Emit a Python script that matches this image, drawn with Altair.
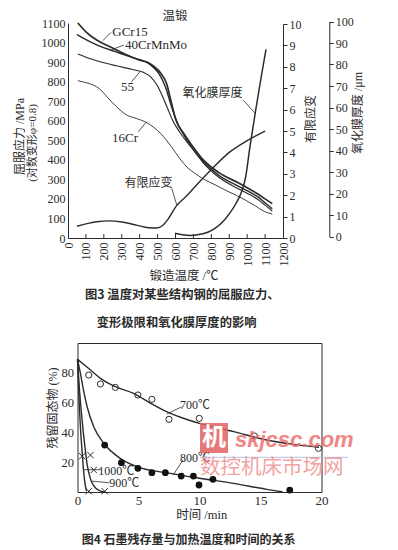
import altair as alt
import pandas as pd

# ---------------- Fig.3 data (temperature vs. yield stress / strain / oxide) ----------------
steel_names = ["GCr15", "40CrMnMo", "55", "16Cr"]
gcr15_temp = [55, 100, 160, 220, 280, 340, 400, 440, 480, 520, 550, 575, 600, 650, 695, 755, 845, 955, 1010, 1060, 1100, 1140]
gcr15_stress = [1100, 1055, 1013, 985, 958, 932, 910, 900, 878, 840, 790, 700, 610, 530, 470, 400, 333, 280, 252, 225, 200, 176]
crmnmo_temp = [50, 100, 180, 260, 340, 400, 440, 480, 515, 545, 575, 605, 645, 690, 750, 840, 950, 1010, 1060, 1100, 1140]
crmnmo_stress = [1040, 1015, 980, 955, 930, 912, 898, 870, 830, 770, 680, 600, 530, 465, 395, 322, 265, 237, 210, 180, 150]
s55_temp = [55, 100, 180, 270, 360, 420, 460, 495, 525, 555, 585, 625, 665, 705, 750, 840, 950, 1010, 1060, 1100, 1140]
s55_stress = [941, 925, 902, 881, 862, 848, 826, 785, 730, 665, 600, 540, 490, 445, 390, 312, 252, 224, 197, 168, 138]
cr16_temp = [55, 100, 140, 180, 220, 270, 330, 380, 440, 480, 520, 575, 625, 665, 710, 765, 815, 880, 940, 990, 1045, 1095, 1140]
cr16_stress = [805, 795, 783, 760, 720, 672, 628, 612, 590, 565, 532, 470, 405, 362, 330, 297, 275, 244, 218, 194, 165, 136, 122]
strain_temp = [50, 100, 160, 234, 300, 383, 450, 495, 530, 560, 605, 660, 720, 800, 900, 1000, 1100]
strain_value = [0.55, 0.66, 0.76, 0.80, 0.75, 0.60, 0.48, 0.47, 0.60, 0.90, 1.50, 1.95, 2.5, 3.2, 4.0, 4.55, 5.0]
oxide_temp = [597, 640, 681, 730, 780, 820, 860, 900, 935, 965, 990, 1016, 1050, 1080, 1105]
oxide_um = [1.5, 0.8, 0.5, 0.9, 2.0, 3.8, 6.5, 10.5, 15, 20, 27, 42, 60, 75, 87]

temp_ticks = list(range(0, 1201, 100))
stress_ticks = list(range(0, 1101, 100))
strain_ticks = list(range(0, 11))
oxide_ticks = list(range(0, 101, 10))

# labels (text, temp, stress) and leader lines (t1, s1, t2, s2)
fig3_labels = ["GCr15", "40CrMnMo", "55", "16Cr", "有限应变", "氧化膜厚度"]
fig3_label_temp = [346, 491, 332, 318, 449, 806]
fig3_label_stress = [1055, 987, 774, 512, 281, 742]
fig3_lead_t1 = [240, 312, 355, 439, 579, 978]
fig3_lead_s1 = [1052, 987, 800, 595, 254, 706]
fig3_lead_t2 = [195, 244, 402, 392, 607, 1044]
fig3_lead_s2 = [1010, 964, 851, 544, 169, 638]

# ---------------- Fig.4 data (residual graphite vs time) ----------------
c700_t = [0.92, 1.88, 3.1, 4.95, 6.1, 7.5, 9.98, 14.5, 19.75]
c700_p = [78.5, 72.5, 70.2, 65.1, 62.2, 48.8, 49.4, 37.6, 29.3]
c800_t = [2.23, 3.6, 4.95, 6.1, 7.2, 8.5, 9.5, 9.96, 11.1, 17.4]
c800_p = [31.5, 19.7, 15.9, 13.0, 13.0, 10.7, 10.7, 4.7, 8.5, 1.3]
cross_t = [0.38, 1.06, 1.33, 0.92, 2.23]
cross_p = [24, 24.8, 14.8, 0.5, 0.5]
fit700_t = [0, 0.9, 1.88, 3.0, 4.6, 6.0, 7.3, 8.5, 10, 12.8, 15.5, 17.7, 19.8]
fit700_p = [89, 83, 76.3, 71, 66.2, 59.5, 53.9, 50, 46.1, 40.5, 34.9, 32, 30]
fit800_t = [0, 0.24, 0.5, 0.79, 1.33, 2.15, 3.5, 4.87, 7.6, 10, 12.8, 15.5, 16.8]
fit800_p = [89, 79.6, 68, 57.2, 43.8, 32.7, 22.6, 17, 12.5, 9.2, 5.8, 1.8, 0.2]
fit900_t = [0, 0.15, 0.3, 0.45, 0.6, 0.8, 1.0, 1.2, 1.5, 1.9, 2.2]
fit900_p = [89, 70, 55, 42, 31, 18, 10.5, 6, 2.5, 0.6, 0]
fit1000_t = [0, 0.08, 0.16, 0.25, 0.35, 0.45, 0.55, 0.65, 0.75]
fit1000_p = [89, 72, 56, 42, 30, 19, 10, 4, 0.5]
time_ticks = [0, 5, 10, 15, 20]
pct_ticks = [20, 40, 60, 80]

fig4_labels = ["700℃", "800℃", "1000℃", "900℃"]
fig4_label_t = [9.63, 9.63, 3.18, 3.84]
fig4_label_p = [58.4, 22.8, 14.3, 6.2]
fig4_lead_t1 = [8.55, 8.65, 1.9, 2.6]
fig4_lead_p1 = [57.2, 21.5, 15.0, 6.2]
fig4_lead_t2 = [7.32, 7.84, 0.5, 1.2]
fig4_lead_p2 = [52.3, 11.4, 15.0, 7.3]

# ---------------- styling ----------------
SERIF = "Liberation Serif, Noto Sans CJK SC"
CJK = "Noto Sans CJK SC"
INK = "#2b2b2b"
W, H = 382, 538

xs_top = alt.Scale(domain=[0, 1200], range=[60, 275], nice=False, zero=False)
ys_mpa = alt.Scale(domain=[0, 1100], range=[230, 15], nice=False)
ys_strain = alt.Scale(domain=[0, 10], range=[230, 16], nice=False)
ys_ox = alt.Scale(domain=[0, 100], range=[228.5, 13.5], nice=False)
xs_bot = alt.Scale(domain=[0, 20], range=[69.5, 313.5], nice=False)
ys_bot = alt.Scale(domain=[0, 100], range=[484, 335], nice=False)

AX = dict(grid=False, title=None, labelFont=SERIF, labelColor=INK, domainColor=INK,
          tickColor=INK, labelOverlap=False, labelFlush=False, format="d")

layers = []

# stress curves
stress_rows = []
for name, T, S in zip(steel_names, [gcr15_temp, crmnmo_temp, s55_temp, cr16_temp],
                      [gcr15_stress, crmnmo_stress, s55_stress, cr16_stress]):
    for t, s in zip(T, S):
        stress_rows.append({"steel": name, "T": t, "S": s})
stress_df = pd.DataFrame(stress_rows)
layers.append(
    alt.Chart(stress_df).mark_line(interpolate="monotone", color=INK).encode(
        x=alt.X("T:Q", scale=xs_top, axis=alt.Axis(orient="bottom", offset=230 - H, values=temp_ticks,
                                                     labelAngle=270, labelFontSize=12, ticks=False,
                                                     labelPadding=4, **AX)),
        y=alt.Y("S:Q", scale=ys_mpa, axis=alt.Axis(orient="left", offset=-60, values=stress_ticks,
                                                     labelFontSize=12, ticks=False, labelPadding=3, **AX)),
        detail="steel:N",
        strokeWidth=alt.StrokeWidth("steel:N", scale=alt.Scale(domain=steel_names, range=[1.7, 0.9, 1.6, 1.6]),
                                    legend=None),
    )
)

# inward x ticks of fig 3
tick_df = pd.DataFrame({"T": temp_ticks[1:-1], "y0": [0] * 11, "y1": [20] * 11})
layers.append(
    alt.Chart(tick_df).mark_rule(color=INK, strokeWidth=1).encode(
        x=alt.X("T:Q", scale=xs_top, axis=None),
        y=alt.Y("y0:Q", scale=ys_mpa, axis=None), y2="y1:Q")
)

# strain curve + right axis
strain_df = pd.DataFrame({"T": strain_temp, "V": strain_value})
layers.append(
    alt.Chart(strain_df).mark_line(interpolate="monotone", color=INK, strokeWidth=1.4).encode(
        x=alt.X("T:Q", scale=xs_top, axis=None),
        y=alt.Y("V:Q", scale=ys_strain, axis=alt.Axis(orient="right", offset=275 - W, values=strain_ticks,
                                                        labelFontSize=12, tickSize=4, labelPadding=2, **AX)))
)

# oxide curve + far right axis
oxide_df = pd.DataFrame({"T": oxide_temp, "V": oxide_um})
layers.append(
    alt.Chart(oxide_df).mark_line(interpolate="monotone", color=INK, strokeWidth=1.5).encode(
        x=alt.X("T:Q", scale=xs_top, axis=None),
        y=alt.Y("V:Q", scale=ys_ox, axis=alt.Axis(orient="right", offset=321.3 - W, values=oxide_ticks,
                                                    labelFontSize=12, tickSize=4, labelPadding=2, **AX)))
)

# fig3 leaders and labels
lead3 = pd.DataFrame({"t1": fig3_lead_t1, "s1": fig3_lead_s1, "t2": fig3_lead_t2, "s2": fig3_lead_s2})
layers.append(
    alt.Chart(lead3).mark_rule(color=INK, strokeWidth=0.8).encode(
        x=alt.X("t1:Q", scale=xs_top, axis=None), x2="t2:Q",
        y=alt.Y("s1:Q", scale=ys_mpa, axis=None), y2="s2:Q")
)
lab3 = pd.DataFrame({"txt": fig3_labels, "T": fig3_label_temp, "S": fig3_label_stress})
layers.append(
    alt.Chart(lab3.iloc[:4]).mark_text(font=SERIF, fontSize=13, color=INK).encode(
        x=alt.X("T:Q", scale=xs_top, axis=None), y=alt.Y("S:Q", scale=ys_mpa, axis=None), text="txt:N")
)
layers.append(
    alt.Chart(lab3.iloc[4:]).mark_text(font=CJK, fontSize=12, color=INK).encode(
        x=alt.X("T:Q", scale=xs_top, axis=None), y=alt.Y("S:Q", scale=ys_mpa, axis=None), text="txt:N")
)

# ---------------- fig 4 ----------------
fit_rows = []
for name, T, P in zip(["700", "800", "900", "1000"], [fit700_t, fit800_t, fit900_t, fit1000_t],
                      [fit700_p, fit800_p, fit900_p, fit1000_p]):
    for t, p in zip(T, P):
        fit_rows.append({"series": name, "t": t, "p": p})
fit_df = pd.DataFrame(fit_rows)
layers.append(
    alt.Chart(fit_df).mark_line(interpolate="monotone", color=INK, strokeWidth=1.4).encode(
        x=alt.X("t:Q", scale=xs_bot, axis=alt.Axis(orient="bottom", offset=484 - H, values=time_ticks,
                                                     labelFontSize=13, ticks=False, labelPadding=2, **AX)),
        y=alt.Y("p:Q", scale=ys_bot, axis=alt.Axis(orient="left", offset=-69.5, values=pct_ticks,
                                                     labelFontSize=12.5, ticks=False, labelPadding=4, **AX)),
        detail="series:N")
)
c700_df = pd.DataFrame({"t": c700_t, "p": c700_p})
layers.append(
    alt.Chart(c700_df).mark_point(shape="circle", filled=False, color=INK, size=38, strokeWidth=1, opacity=1).encode(
        x=alt.X("t:Q", scale=xs_bot, axis=alt.Axis(orient="top", offset=-335, labels=False, ticks=False,
                                                     values=time_ticks, **AX)),
        y=alt.Y("p:Q", scale=ys_bot, axis=alt.Axis(orient="right", offset=313.5 - W, labels=False, ticks=False,
                                                     values=pct_ticks, **AX)))
)
c800_df = pd.DataFrame({"t": c800_t, "p": c800_p})
layers.append(
    alt.Chart(c800_df).mark_point(shape="circle", filled=True, color="#111", size=46, opacity=1).encode(
        x=alt.X("t:Q", scale=xs_bot, axis=None), y=alt.Y("p:Q", scale=ys_bot, axis=None))
)
cross_df = pd.DataFrame({"t": cross_t, "p": cross_p})
layers.append(
    alt.Chart(cross_df).mark_point(shape="M-1,-1L1,1M-1,1L1,-1", filled=False, color=INK, size=40,
                                   strokeWidth=1, opacity=1).encode(
        x=alt.X("t:Q", scale=xs_bot, axis=None), y=alt.Y("p:Q", scale=ys_bot, axis=None))
)
lead4 = pd.DataFrame({"t1": fig4_lead_t1, "p1": fig4_lead_p1, "t2": fig4_lead_t2, "p2": fig4_lead_p2})
layers.append(
    alt.Chart(lead4).mark_rule(color=INK, strokeWidth=0.8).encode(
        x=alt.X("t1:Q", scale=xs_bot, axis=None), x2="t2:Q",
        y=alt.Y("p1:Q", scale=ys_bot, axis=None), y2="p2:Q")
)
lab4 = pd.DataFrame({"txt": fig4_labels, "t": fig4_label_t, "p": fig4_label_p})
layers.append(
    alt.Chart(lab4).mark_text(font=SERIF, fontSize=12, color=INK).encode(
        x=alt.X("t:Q", scale=xs_bot, axis=None), y=alt.Y("p:Q", scale=ys_bot, axis=None), text="txt:N")
)


# ---------------- titles, captions ----------------
def note(text, x, y, size=12, font=CJK, angle=0, align="center", color=INK, weight="normal",
         style="normal", opacity=1.0):
    return alt.Chart(pd.DataFrame({"txt": [text]})).mark_text(
        font=font, fontSize=size, angle=angle, align=align, baseline="middle", color=color,
        fontWeight=weight, fontStyle=style, opacity=opacity).encode(
        x=alt.value(x), y=alt.value(y), text="txt:N")


layers += [
    note("温锻", 167, 8, size=12.5),
    note("屈服应力 /MPa", 12, 128.5, size=12, font=SERIF, angle=270),
    note("(对数变形φ=0.8)", 25, 135, size=11, font=SERIF, angle=270),
    note("有限应变", 303, 111, size=12, angle=270),
    note("氧化膜厚度 /μm", 350, 105, size=12, font=SERIF, angle=270),
    note("锻造温度 /℃", 176, 268, size=12.5, font=SERIF),
    note("图3 温度对某些结构钢的屈服应力、", 77, 287, size=12.3, align="left", weight="bold"),
    note("变形极限和氧化膜厚度的影响", 88.7, 315, size=12.3, align="left", weight="bold"),
    note("残留固态物 (%)", 45, 400, size=12, font=SERIF, angle=270),
    note("时间 /min", 193.7, 507, size=12.5, font=SERIF),
    note("图4  石墨残存量与加热温度和时间的关系", 73.7, 532, size=12, align="left", weight="bold"),
]

# watermark
layers.append(
    alt.Chart(pd.DataFrame({"a": [1]})).mark_rect(color="#e06060", opacity=0.85).encode(
        x=alt.value(192), x2=alt.value(220), y=alt.value(415), y2=alt.value(445))
)
layers.append(
    alt.Chart(pd.DataFrame({"a": [1]})).mark_rule(color="#b8bedc", strokeWidth=1).encode(
        x=alt.value(192), x2=alt.value(340), y=alt.value(449.3))
)
layers += [
    note("机", 206, 430, size=24, color="#ffffff", weight="bold"),
    note("skjcsc.com", 227, 432, size=22, font="Liberation Sans", align="left", color="#ee7070",
         weight="bold", style="italic", opacity=0.85),
    note("数控机床市场网", 192, 460, size=20.5, align="left", color="#f08c8c", opacity=0.8),
]

chart = alt.layer(*layers).resolve_scale(x="independent", y="independent").properties(
    width=W, height=H, autosize=alt.AutoSizeParams(type="none"), padding=0
).configure_view(strokeWidth=0)

chart.save("out.html", embed_options={"renderer": "svg", "actions": False})
